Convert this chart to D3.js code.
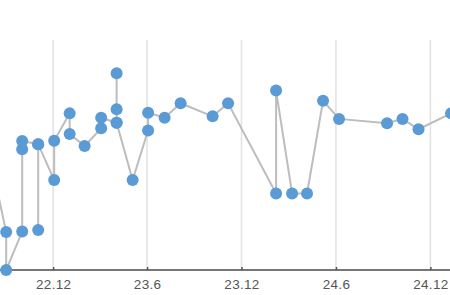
<!DOCTYPE html>
<html>
<head>
<meta charset="utf-8">
<script src="https://cdn.jsdelivr.net/npm/d3@7"></script>
<style>
  body { margin: 0; background: #fff; }
  svg { display: block; }
  .xaxis text { font-family: "Liberation Sans", Arial, sans-serif; font-size: 13.5px; fill: #555; letter-spacing: 0.3px; }
</style>
</head>
<body>
<div id="chart"></div>
<script>
// readings, in drawing order (several readings can share a date)
var dates = [
  "2022-08-02", "2022-09-01", "2022-09-01", "2022-10-02", "2022-10-02", "2022-10-02",
  "2022-11-02", "2022-11-02", "2022-11-02", "2022-12-03", "2022-12-03",
  "2023-01-02", "2023-01-02", "2023-01-31", "2023-03-04", "2023-03-04",
  "2023-04-03", "2023-04-03", "2023-04-03", "2023-04-03", "2023-05-04",
  "2023-06-03", "2023-06-03", "2023-07-05", "2023-08-05", "2023-10-06", "2023-11-05",
  "2024-02-06", "2024-02-06", "2024-03-08", "2024-04-06", "2024-05-07", "2024-06-07",
  "2024-09-08", "2024-10-08", "2024-11-08", "2025-01-10"
];
var values = [
  47.8, 16.5, 0, 16.7, 52.5, 56.1,
  54.7, 17.4, 54.7, 39.1, 56.2,
  68.1, 59.1, 53.9, 61.6, 66.2,
  64.0, 69.9, 85.5, 64.0, 39.1,
  60.7, 68.4, 66.2, 72.5, 66.8, 72.5,
  33.3, 78.0, 33.3, 33.3, 73.6, 65.7,
  63.8, 65.7, 61.2, 68.1
];
var tickDates = ["2022-12-01", "2023-06-01", "2023-12-01", "2024-06-01", "2024-12-01"];
var tickLabels = ["22.12", "23.6", "23.12", "24.6", "24.12"];

var width = 450, height = 295;
var plotTop = 40, plotBottom = 270;

var parse = d3.timeParse("%Y-%m-%d");
var pts = dates.map(function(d, i) { return [parse(d), values[i]]; });

var svg = d3.select("#chart")
  .append("svg")
  .attr("width", width)
  .attr("height", height);

var xScale = d3.scaleTime()
  .domain([parse("2022-08-20"), parse("2025-01-08")])
  .range([0, width]);

var yScale = d3.scaleLinear()
  .domain([0, 100])
  .range([plotBottom, plotTop]);

var ticks = tickDates.map(parse);

// vertical grid lines
svg.append("g")
  .attr("class", "grid")
  .selectAll("line")
  .data(ticks)
  .enter()
  .append("line")
  .attr("x1", function(d) { return xScale(d); })
  .attr("x2", function(d) { return xScale(d); })
  .attr("y1", plotTop)
  .attr("y2", plotBottom)
  .attr("stroke", "#e2e2e2")
  .attr("stroke-width", 1.5);

var xAxis = d3.axisBottom(xScale)
  .tickValues(ticks)
  .tickSize(-3)
  .tickPadding(9)
  .tickFormat(function(d, i) { return tickLabels[i]; });

var gx = svg.append("g")
  .attr("class", "xaxis")
  .attr("transform", "translate(0," + plotBottom + ")")
  .call(xAxis);
gx.select(".domain")
  .attr("d", "M0,0H" + width)
  .attr("stroke", "#777")
  .attr("stroke-width", 2);
gx.selectAll(".tick line").attr("stroke", "#555").attr("stroke-width", 1.5);

var line = d3.line()
  .x(function(v) { return xScale(v[0]); })
  .y(function(v) { return yScale(v[1]); });

svg.append("path")
  .datum(pts)
  .attr("d", line)
  .attr("fill", "none")
  .attr("stroke", "#bdbdbd")
  .attr("stroke-width", 2);

svg.append("g")
  .attr("class", "dots")
  .selectAll("circle")
  .data(pts)
  .enter()
  .append("circle")
  .attr("cx", function(v) { return xScale(v[0]); })
  .attr("cy", function(v) { return yScale(v[1]); })
  .attr("r", 6)
  .attr("fill", "#5b9bd5");
</script>
</body>
</html>
